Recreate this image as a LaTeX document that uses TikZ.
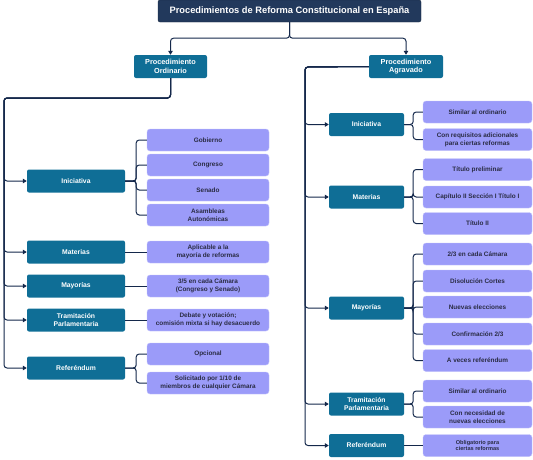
\documentclass[tikz,border=0pt]{standalone}
\usepackage{fontspec}
\setmainfont{Liberation Sans}
\usetikzlibrary{arrows.meta,positioning}
\definecolor{Navy}{HTML}{22395C}
\definecolor{Ink}{HTML}{14284B}
\definecolor{Teal}{HTML}{0F6E96}
\definecolor{Lilac}{HTML}{9B9BF9}
\definecolor{DarkText}{HTML}{2A2C44}
\tikzset{
  titlebox/.style={fill=Navy,draw=Navy!70!black,text=white,rounded corners=2pt,
    minimum width=263pt,minimum height=22pt,font=\bfseries\fontsize{9.3}{11}\selectfont},
  procbox/.style={fill=Teal,text=white,rounded corners=2pt,minimum height=23pt,
    align=center,inner sep=1pt,font=\bfseries\fontsize{6.8}{8}\selectfont},
  catleft/.style={procbox,minimum width=98pt},
  catright/.style={procbox,minimum width=75pt},
  detail/.style={fill=Lilac,draw=Lilac!60!white,text=DarkText,rounded corners=3pt,
    minimum height=22pt,align=center,inner sep=1pt,font=\bfseries\fontsize{6.4}{7.8}\selectfont},
  detleft/.style={detail,minimum width=122pt},
  detright/.style={detail,minimum width=109pt},
  link/.style={draw=Ink,line width=1pt,rounded corners=3pt},
  arrow/.style={link,-{Triangle[length=4pt,width=4.5pt]}}
}
\begin{document}
\begin{tikzpicture}[x=1pt,y=-1pt]
  \useasboundingbox (0,0) rectangle (533,459);

  % top level
  \node[titlebox] (title) at (289.5,11) {Procedimientos de Reforma Constitucional en España};
  \node[procbox,minimum width=73pt,font=\bfseries\fontsize{7.3}{8.6}\selectfont] (ord) at (170.5,66.5) {Procedimiento\\Ordinario};
  \node[procbox,minimum width=74pt,font=\bfseries\fontsize{7.3}{8.6}\selectfont] (agr) at (406,66.5) {Procedimiento\\Agravado};
  \draw[arrow] (title.south) -- ++(0,16) -| (ord.north);
  \draw[arrow] (title.south) -- ++(0,16) -| (agr.north);

  % ordinario
  \node[catleft] (oini) at (76,181) {Iniciativa};
  \node[catleft] (omat) at (76,252) {Materias};
  \node[catleft] (omay) at (76,286) {Mayorías};
  \node[catleft] (otra) at (76,320) {Tramitación\\Parlamentaria};
  \node[catleft] (oref) at (76,368) {Referéndum};

  \node[detleft] (ogob) at (208,140) {Gobierno};
  \node[detleft] (ocon) at (208,165) {Congreso};
  \node[detleft] (osen) at (208,190) {Senado};
  \node[detleft] (oasa) at (208,215) {Asambleas\\Autonómicas};
  \node[detleft] (oapl) at (208,252) {Aplicable a la\\mayoría de reformas};
  \node[detleft] (otre) at (208,286) {3/5 en cada Cámara\\(Congreso y Senado)};
  \node[detleft] (odeb) at (208,320) {Debate y votación;\\comisión mixta si hay desacuerdo};
  \node[detleft] (oopc) at (208,354) {Opcional};
  \node[detleft] (osol) at (208,383) {Solicitado por 1/10 de\\miembros de cualquier Cámara};

  \coordinate (lbus) at (4,98);
  \foreach \c in {oini,omat,omay,otra,oref}
    \draw[arrow] (ord.south) |- (lbus) |- (\c.west);
  \foreach \d in {ogob,ocon,osen,oasa}
    \draw[link] (oini.east) -- ++(11,0) |- (\d.west);
  \draw[link] (omat) -- (oapl);
  \draw[link] (omay) -- (otre);
  \draw[link] (otra) -- (odeb);
  \foreach \d in {oopc,osol}
    \draw[link] (oref.east) -- ++(11,0) |- (\d.west);

  % agravado
  \node[catright] (aini) at (366.5,124.5) {Iniciativa};
  \node[catright] (amat) at (366.5,197) {Materias};
  \node[catright] (amay) at (366.5,308) {Mayorías};
  \node[catright] (atra) at (366.5,404) {Tramitación\\Parlamentaria};
  \node[catright] (aref) at (366.5,445.5) {Referéndum};

  \node[detright] (asim) at (477.5,112) {Similar al ordinario};
  \node[detright] (areq) at (477.5,139.5) {Con requisitos adicionales\\para ciertas reformas};
  \node[detright] (atit) at (477.5,169.5) {Título preliminar};
  \node[detright] (acap) at (477.5,197) {Capítulo II Sección I Título I};
  \node[detright] (atii) at (477.5,223.5) {Título II};
  \node[detright] (ados) at (477.5,254) {2/3 en cada Cámara};
  \node[detright] (adis) at (477.5,281) {Disolución Cortes};
  \node[detright] (anue) at (477.5,307) {Nuevas elecciones};
  \node[detright] (acon) at (477.5,334) {Confirmación 2/3};
  \node[detright] (aver) at (477.5,360.5) {A veces referéndum};
  \node[detright] (asio) at (477.5,391) {Similar al ordinario};
  \node[detright] (anec) at (477.5,417) {Con necesidad de\\nuevas elecciones};
  \node[detright,font=\bfseries\fontsize{5.6}{6.8}\selectfont] (aobl) at (477.5,445.5) {Obligatorio para\\ciertas reformas};

  \coordinate (rbus) at (305,67);
  \foreach \c in {aini,amat,amay,atra,aref}
    \draw[arrow] (agr.west) -- (rbus) |- (\c.west);
  \foreach \d in {asim,areq}
    \draw[link] (aini.east) -- ++(9,0) |- (\d.west);
  \foreach \d in {atit,acap,atii}
    \draw[link] (amat.east) -- ++(9,0) |- (\d.west);
  \foreach \d in {ados,adis,anue,acon,aver}
    \draw[link] (amay.east) -- ++(9,0) |- (\d.west);
  \foreach \d in {asio,anec}
    \draw[link] (atra.east) -- ++(9,0) |- (\d.west);
  \draw[link] (aref) -- (aobl);
\end{tikzpicture}
\end{document}
